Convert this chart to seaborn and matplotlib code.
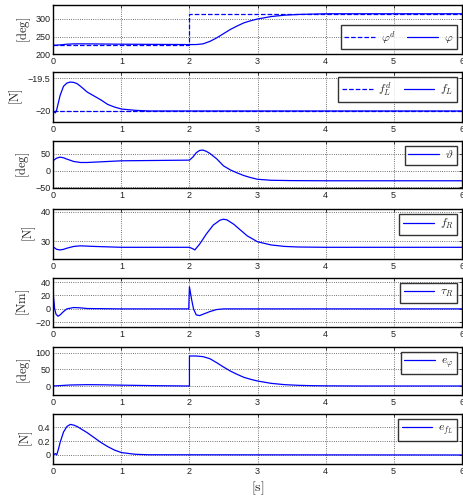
import numpy as np
import pandas as pd
import matplotlib
matplotlib.use("Agg")
import matplotlib.pyplot as plt
from matplotlib.ticker import FuncFormatter
import seaborn as sns

# ---- data ----
t_phid = [0, 2, 2, 6]
phi_d = [225, 225, 315, 315]
t_phi = [0, 0.1, 0.2, 0.3, 0.5, 1.0, 1.5, 2.0, 2.1, 2.2, 2.3, 2.4, 2.5, 2.6,
         2.7, 2.8, 2.9, 3.0, 3.2, 3.4, 3.6, 3.8, 4.0, 4.5, 5.0, 6.0]
phi = [225, 226, 228, 229, 229, 228, 227.5, 227, 227, 229, 236, 246, 258, 270,
       280, 289, 295, 300, 307, 311, 313, 314, 315, 315, 315, 315]

t_fLd = [0, 6]
fL_d = [-20, -20]
t_fL = [0, 0.03, 0.05, 0.08, 0.1, 0.15, 0.2, 0.25, 0.3, 0.35, 0.4, 0.5, 0.6,
        0.7, 0.8, 0.9, 1.0, 1.2, 1.4, 6.0]
fL = [-20.0, -20.03, -19.98, -19.85, -19.76, -19.62, -19.57, -19.555, -19.56,
      -19.58, -19.62, -19.71, -19.77, -19.83, -19.90, -19.94, -19.97, -19.99,
      -20.0, -20.0]

t_th = [0, 0.05, 0.1, 0.15, 0.2, 0.3, 0.4, 0.5, 0.7, 1.0, 1.5, 2.0, 2.05, 2.1,
        2.15, 2.2, 2.25, 2.3, 2.4, 2.5, 2.6, 2.7, 2.8, 2.9, 3.0, 3.2, 3.5, 4.0, 6.0]
theta = [30, 37, 40, 38, 34, 27, 24, 24, 26, 29, 30, 31, 40, 53,
         60, 61, 57, 51, 35, 14, 2, -7, -15, -21, -26, -29, -30, -30.5, -30.5]

t_fR = [0, 0.05, 0.1, 0.15, 0.2, 0.3, 0.4, 0.6, 1.0, 2.0, 2.05, 2.08, 2.15,
        2.25, 2.35, 2.45, 2.5, 2.55, 2.65, 2.75, 2.85, 3.0, 3.2, 3.4, 3.6, 4.0, 6.0]
fR = [28.0, 27.2, 27.0, 27.2, 27.6, 28.2, 28.4, 28.2, 27.9, 27.9, 27.4, 27.0,
      29.0, 32.5, 35.5, 37.2, 37.5, 37.3, 35.8, 33.8, 31.8, 29.8, 28.7, 28.2,
      28.0, 27.9, 27.9]

t_tau = [0, 0.02, 0.04, 0.07, 0.1, 0.15, 0.2, 0.3, 0.4, 0.5, 1.0, 1.99, 2.0,
         2.03, 2.06, 2.1, 2.15, 2.2, 2.3, 2.4, 2.5, 6.0]
tau = [21, 0, -8, -11, -9, -4, 0, 2, 1.5, 0.5, 0, 0, 33,
       15, 0, -9, -10, -8, -4, -1, 0, 0]

t_ephi = [0, 0.25, 0.5, 0.75, 1.0, 1.5, 2.0, 2.0, 2.1, 2.2, 2.3, 2.4, 2.5, 2.6,
          2.7, 2.8, 2.9, 3.0, 3.2, 3.4, 3.6, 3.8, 4.0, 4.5, 5.0, 6.0]
e_phi = [0, 3, 4, 3.5, 2.5, 1, 0, 90, 90, 88, 82, 70, 57, 45,
         35, 26, 20, 15, 8, 4, 2, 1, 0.5, 0, 0, 0]

t_efL = [0, 0.03, 0.05, 0.08, 0.1, 0.15, 0.2, 0.25, 0.3, 0.35, 0.4, 0.5, 0.6,
         0.7, 0.8, 0.9, 1.0, 1.2, 1.4, 6.0]
e_fL = [0, 0.02, 0.0, 0.1, 0.18, 0.33, 0.41, 0.44, 0.43, 0.41, 0.38, 0.32, 0.25,
        0.18, 0.12, 0.07, 0.035, 0.01, 0.003, 0]

# ---- style ----
sns.set_theme(style="white")
plt.rcParams["font.family"] = ["Liberation Sans", "DejaVu Sans"]
plt.rcParams["mathtext.fontset"] = "cm"

fig = plt.figure(figsize=(4.63, 5.0), dpi=100)
W, H = 463, 500
tops = [5, 72, 141, 209, 278, 347, 414]
bots = [54, 122, 188, 259, 327, 395, 464]
left, right = 53.3, 461.7

panels = [
    dict(series=[(t_phid, phi_d, "--", r"$\varphi^d$"), (t_phi, phi, "-", r"$\varphi$")],
         ylabel=r"$[\mathrm{deg}]$", ylim=(200, 340), yticks=[200, 250, 300],
         loc="lower right", ncol=2),
    dict(series=[(t_fLd, fL_d, "--", r"$f_L^d$"), (t_fL, fL, "-", r"$f_L$")],
         ylabel=r"$[\mathrm{N}]$", ylim=(-20.17, -19.4), yticks=[-20, -19.5],
         loc="upper right", ncol=2),
    dict(series=[(t_th, theta, "-", r"$\vartheta$")],
         ylabel=r"$[\mathrm{deg}]$", ylim=(-52, 88), yticks=[-50, 0, 50],
         loc="upper right", ncol=1),
    dict(series=[(t_fR, fR, "-", r"$f_R$")],
         ylabel=r"$[\mathrm{N}]$", ylim=(23.9, 41), yticks=[30, 40],
         loc="upper right", ncol=1),
    dict(series=[(t_tau, tau, "-", r"$\tau_R$")],
         ylabel=r"$[\mathrm{Nm}]$", ylim=(-27, 46), yticks=[-20, 0, 20, 40],
         loc="upper right", ncol=1),
    dict(series=[(t_ephi, e_phi, "-", r"$e_\varphi$")],
         ylabel=r"$[\mathrm{deg}]$", ylim=(-27, 117), yticks=[0, 50, 100],
         loc="upper right", ncol=1),
    dict(series=[(t_efL, e_fL, "-", r"$e_{f_L}$")],
         ylabel=r"$[\mathrm{N}]$", ylim=(-0.13, 0.59), yticks=[0, 0.2, 0.4],
         loc="upper right", ncol=1),
]

fmt = FuncFormatter(lambda v, pos: ("%g" % v).replace("-", "\u2212"))

for i, p in enumerate(panels):
    ax = fig.add_axes([left / W, 1 - bots[i] / H, (right - left) / W,
                       (bots[i] - tops[i]) / H])
    for tt, yy, ls, lab in p["series"]:
        df = pd.DataFrame({"t": tt, "v": yy})
        sns.lineplot(data=df, x="t", y="v", ax=ax, color="#0000ff",
                     linestyle=ls, linewidth=0.9, label=lab,
                     estimator=None, sort=False)
    ax.set_xlim(0, 6)
    ax.set_ylim(*p["ylim"])
    ax.set_xticks(range(7))
    ax.set_yticks(p["yticks"])
    ax.yaxis.set_major_formatter(fmt)
    ax.grid(True, linestyle=":", color="#444444", linewidth=0.6)
    ax.tick_params(direction="in", length=2.5, width=0.6, labelsize=6.5,
                   top=True, right=True, pad=2, colors="#222222")
    for s in ax.spines.values():
        s.set_color("black")
        s.set_linewidth(1.0)
    ax.set_xlabel("")
    ax.set_ylabel(p["ylabel"], fontsize=9, labelpad=2)
    leg = ax.legend(loc=p["loc"], ncol=p["ncol"], fontsize=8.5, frameon=True,
                    fancybox=False, handlelength=2.6, borderpad=0.3,
                    columnspacing=1.0, handletextpad=0.5, borderaxespad=0.4)
    leg.get_frame().set_edgecolor("black")
    leg.get_frame().set_linewidth(1.0)

fig.text(((left + right) / 2) / W, 1 - 488 / H, r"$[\mathrm{s}]$",
         ha="center", va="center", fontsize=10)

fig.savefig("out.png", dpi=100)
